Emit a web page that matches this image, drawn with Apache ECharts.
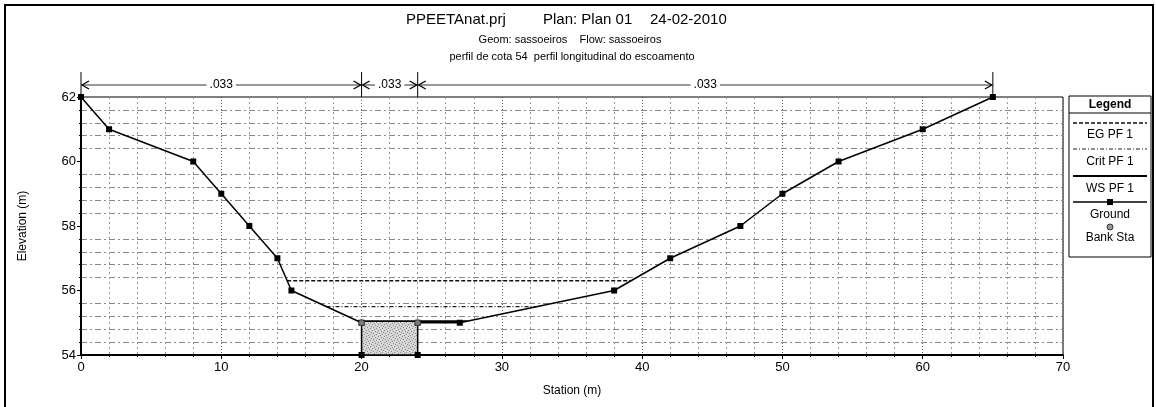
<!DOCTYPE html>
<html>
<head>
<meta charset="utf-8">
<script src="https://cdn.jsdelivr.net/npm/echarts@6/dist/echarts.min.js"></script>
<style>
html,body{margin:0;padding:0;background:#fff;}
#chart{width:1156px;height:407px;}
</style>
</head>
<body>
<div id="chart"></div>
<script>
// ---- data ----
const stations   = [0, 2, 8, 10, 12, 14, 15, 20, 20, 24, 24, 27, 38, 42, 47, 50, 54, 60, 65];
const groundElev = [62, 61, 60, 59, 58, 57, 56, 55, 54, 54, 55, 55, 56, 57, 58, 59, 60, 61, 62];
const egElev = 56.3;   const egExtent = [14.7, 39.2];
const critElev = 55.5; const critExtent = [17.5, 32.5];
const wsElev = 55.05;  const wsExtent = [19.75, 27.55];
const bankSta = [20, 24];
const bankElev = [55, 55];
const nBreaks = [0, 20, 24, 65];
const nValues = ['.033', '.033', '.033'];
const xTicks = [0, 10, 20, 30, 40, 50, 60, 70];
const yTicks = [54, 56, 58, 60, 62];
const legendItems = ['EG PF 1', 'Crit PF 1', 'WS PF 1', 'Ground', 'Bank Sta'];

const FONT = 'Liberation Sans, Arial, sans-serif';
const chart = echarts.init(document.getElementById('chart'), null, {renderer: 'canvas'});

// stipple pattern for water fill
function makePattern() {
  const c = document.createElement('canvas');
  c.width = 6; c.height = 6;
  const g = c.getContext('2d');
  g.fillStyle = '#d6d6d6'; g.fillRect(0, 0, 6, 6);
  g.fillStyle = '#8a8a8a';
  [[0,0],[3,1],[1,3],[4,4],[2,5],[5,2]].forEach(p => g.fillRect(p[0], p[1], 1, 1));
  return c;
}

const ground = stations.map((s, i) => [s, groundElev[i]]);
const bank = bankSta.map((s, i) => [s, bankElev[i]]);

const option = {
  backgroundColor: '#fff',
  animation: false,
  grid: {left: 81, right: 93, top: 97, bottom: 52, show: true, borderColor: '#000', borderWidth: 1},
  xAxis: {
    type: 'value', min: xTicks[0], max: xTicks[xTicks.length - 1], interval: 10,
    name: 'Station (m)', nameLocation: 'middle', nameGap: 30,
    nameTextStyle: {fontFamily: FONT, fontSize: 12, color: '#000'},
    axisLine: {lineStyle: {color: '#000', width: 2}},
    axisTick: {show: true, length: 4, lineStyle: {color: '#000'}},
    minorTick: {show: true, splitNumber: 5, length: 2, lineStyle: {color: '#000'}},
    axisLabel: {fontFamily: FONT, fontSize: 13, color: '#000', margin: 6},
    splitLine: {show: true, lineStyle: {color: '#666', type: [1, 2], width: 1}},
    minorSplitLine: {show: true, lineStyle: {color: '#999', type: [2, 3], width: 1}}
  },
  yAxis: {
    type: 'value', min: yTicks[0], max: yTicks[yTicks.length - 1], interval: 2,
    name: 'Elevation (m)', nameLocation: 'middle', nameGap: 52, nameRotate: 90,
    nameTextStyle: {fontFamily: FONT, fontSize: 12, color: '#000'},
    axisLine: {show: true, lineStyle: {color: '#000', width: 2}},
    axisTick: {show: true, length: 4, lineStyle: {color: '#000'}},
    minorTick: {show: true, splitNumber: 5, length: 2, lineStyle: {color: '#000'}},
    axisLabel: {fontFamily: FONT, fontSize: 13, color: '#000', margin: 5},
    splitLine: {show: false},
    minorSplitLine: {show: true, lineStyle: {color: '#888', type: [6, 3, 2, 3], width: 1}}
  },
  series: [
    {
      name: 'WaterFill', type: 'line', data: bankSta.map(s => [s, wsElev]),
      symbol: 'none', lineStyle: {width: 0}, z: 1,
      areaStyle: {origin: 'start', opacity: 1, color: {image: makePattern(), repeat: 'repeat'}}
    },
    {
      name: 'EG PF 1', type: 'line', data: egExtent.map(s => [s, egElev]),
      symbol: 'none', lineStyle: {color: '#111', width: 1.5, type: [4, 2]}, z: 3
    },
    {
      name: 'Crit PF 1', type: 'line', data: critExtent.map(s => [s, critElev]),
      symbol: 'none', lineStyle: {color: '#222', width: 1.2, type: [4, 2, 1, 2]}, z: 3
    },
    {
      name: 'WS PF 1', type: 'line', data: wsExtent.map(s => [s, wsElev]),
      symbol: 'none', lineStyle: {color: '#000', width: 1.8}, z: 3
    },
    {
      name: 'Ground', type: 'line', data: ground,
      symbol: 'rect', symbolSize: 6, itemStyle: {color: '#000'},
      lineStyle: {color: '#000', width: 1.5}, z: 4, clip: false
    },
    {
      name: 'Bank Sta', type: 'scatter', data: bank,
      symbol: 'circle', symbolSize: 6,
      itemStyle: {color: '#999', borderColor: '#333', borderWidth: 1}, z: 5
    }
  ]
};
chart.setOption(option);

// ---- annotations: titles, n-values, legend ----
const g = [];
g.push({type: 'rect', shape: {x: 5, y: 5, width: 1148, height: 420}, style: {fill: 'none', stroke: '#000', lineWidth: 2}, silent: true});
g.push({type: 'text', x: 406, y: 20, style: {text: 'PPEETAnat.prj', font: '15px ' + FONT, fill: '#000', textVerticalAlign: 'middle'}});
g.push({type: 'text', x: 543, y: 20, style: {text: 'Plan: Plan 01', font: '15px ' + FONT, fill: '#000', textVerticalAlign: 'middle'}});
g.push({type: 'text', x: 650, y: 20, style: {text: '24-02-2010', font: '15px ' + FONT, fill: '#000', textVerticalAlign: 'middle'}});
g.push({type: 'text', x: 570, y: 40, style: {text: 'Geom: sassoeiros    Flow: sassoeiros', font: '11px ' + FONT, fill: '#000', textAlign: 'center', textVerticalAlign: 'middle'}});
g.push({type: 'text', x: 572, y: 57, style: {text: 'perfil de cota 54  perfil longitudinal do escoamento', font: '11px ' + FONT, fill: '#000', textAlign: 'center', textVerticalAlign: 'middle'}});

const topY = chart.convertToPixel({gridIndex: 0}, [0, yTicks[yTicks.length - 1]])[1];
const arrowY = topY - 12;
const nPx = nBreaks.map(s => chart.convertToPixel({gridIndex: 0}, [s, yTicks[yTicks.length - 1]])[0]);
nPx.forEach(px => {
  g.push({type: 'line', shape: {x1: px, y1: topY - 25, x2: px, y2: topY}, style: {stroke: '#000', lineWidth: 1}});
});
for (let i = 0; i < nValues.length; i++) {
  const a = nPx[i] + 1, b = nPx[i + 1] - 1;
  g.push({type: 'line', shape: {x1: a, y1: arrowY, x2: b, y2: arrowY}, style: {stroke: '#333', lineWidth: 1}});
  g.push({type: 'polyline', shape: {points: [[a + 7, arrowY - 4], [a, arrowY], [a + 7, arrowY + 4]]}, style: {stroke: '#000', lineWidth: 1.3, fill: 'none'}});
  g.push({type: 'polyline', shape: {points: [[b - 7, arrowY - 4], [b, arrowY], [b - 7, arrowY + 4]]}, style: {stroke: '#000', lineWidth: 1.3, fill: 'none'}});
  g.push({type: 'text', x: (a + b) / 2, y: arrowY, z: 10, style: {text: nValues[i], font: '12px ' + FONT, fill: '#000', textAlign: 'center', textVerticalAlign: 'middle', backgroundColor: '#fff', padding: [0, 3]}});
}

// legend box
const LX = 1069, LW = 82, LY = 96;
g.push({type: 'rect', shape: {x: LX, y: LY, width: LW, height: 161}, style: {fill: '#fff', stroke: '#000', lineWidth: 1}});
g.push({type: 'line', shape: {x1: LX, y1: LY + 17, x2: LX + LW, y2: LY + 17}, style: {stroke: '#000', lineWidth: 1}});
g.push({type: 'text', x: LX + LW / 2, y: LY + 9, style: {text: 'Legend', font: 'bold 12px ' + FONT, fill: '#000', textAlign: 'center', textVerticalAlign: 'middle'}});
const cx = LX + LW / 2;
const x1 = LX + 4, x2 = LX + LW - 4;
const sampleY = [123, 149, 176, 202];
const textY = [135, 162, 189, 215];
g.push({type: 'line', shape: {x1: x1, y1: sampleY[0], x2: x2, y2: sampleY[0]}, style: {stroke: '#111', lineWidth: 1.5, lineDash: [4, 2]}});
g.push({type: 'line', shape: {x1: x1, y1: sampleY[1], x2: x2, y2: sampleY[1]}, style: {stroke: '#222', lineWidth: 1.2, lineDash: [4, 2, 1, 2]}});
g.push({type: 'line', shape: {x1: x1, y1: sampleY[2], x2: x2, y2: sampleY[2]}, style: {stroke: '#000', lineWidth: 1.8}});
g.push({type: 'line', shape: {x1: x1, y1: sampleY[3], x2: x2, y2: sampleY[3]}, style: {stroke: '#000', lineWidth: 1.5}});
g.push({type: 'rect', shape: {x: cx - 3, y: sampleY[3] - 3, width: 6, height: 6}, style: {fill: '#000'}});
g.push({type: 'circle', shape: {cx: cx, cy: 227, r: 3}, style: {fill: '#999', stroke: '#333', lineWidth: 1}});
for (let i = 0; i < 4; i++) {
  g.push({type: 'text', x: cx, y: textY[i], style: {text: legendItems[i], font: '12px ' + FONT, fill: '#000', textAlign: 'center', textVerticalAlign: 'middle'}});
}
g.push({type: 'text', x: cx, y: 238, style: {text: legendItems[4], font: '12px ' + FONT, fill: '#000', textAlign: 'center', textVerticalAlign: 'middle'}});

chart.setOption({graphic: {elements: g}});
</script>
</body>
</html>
